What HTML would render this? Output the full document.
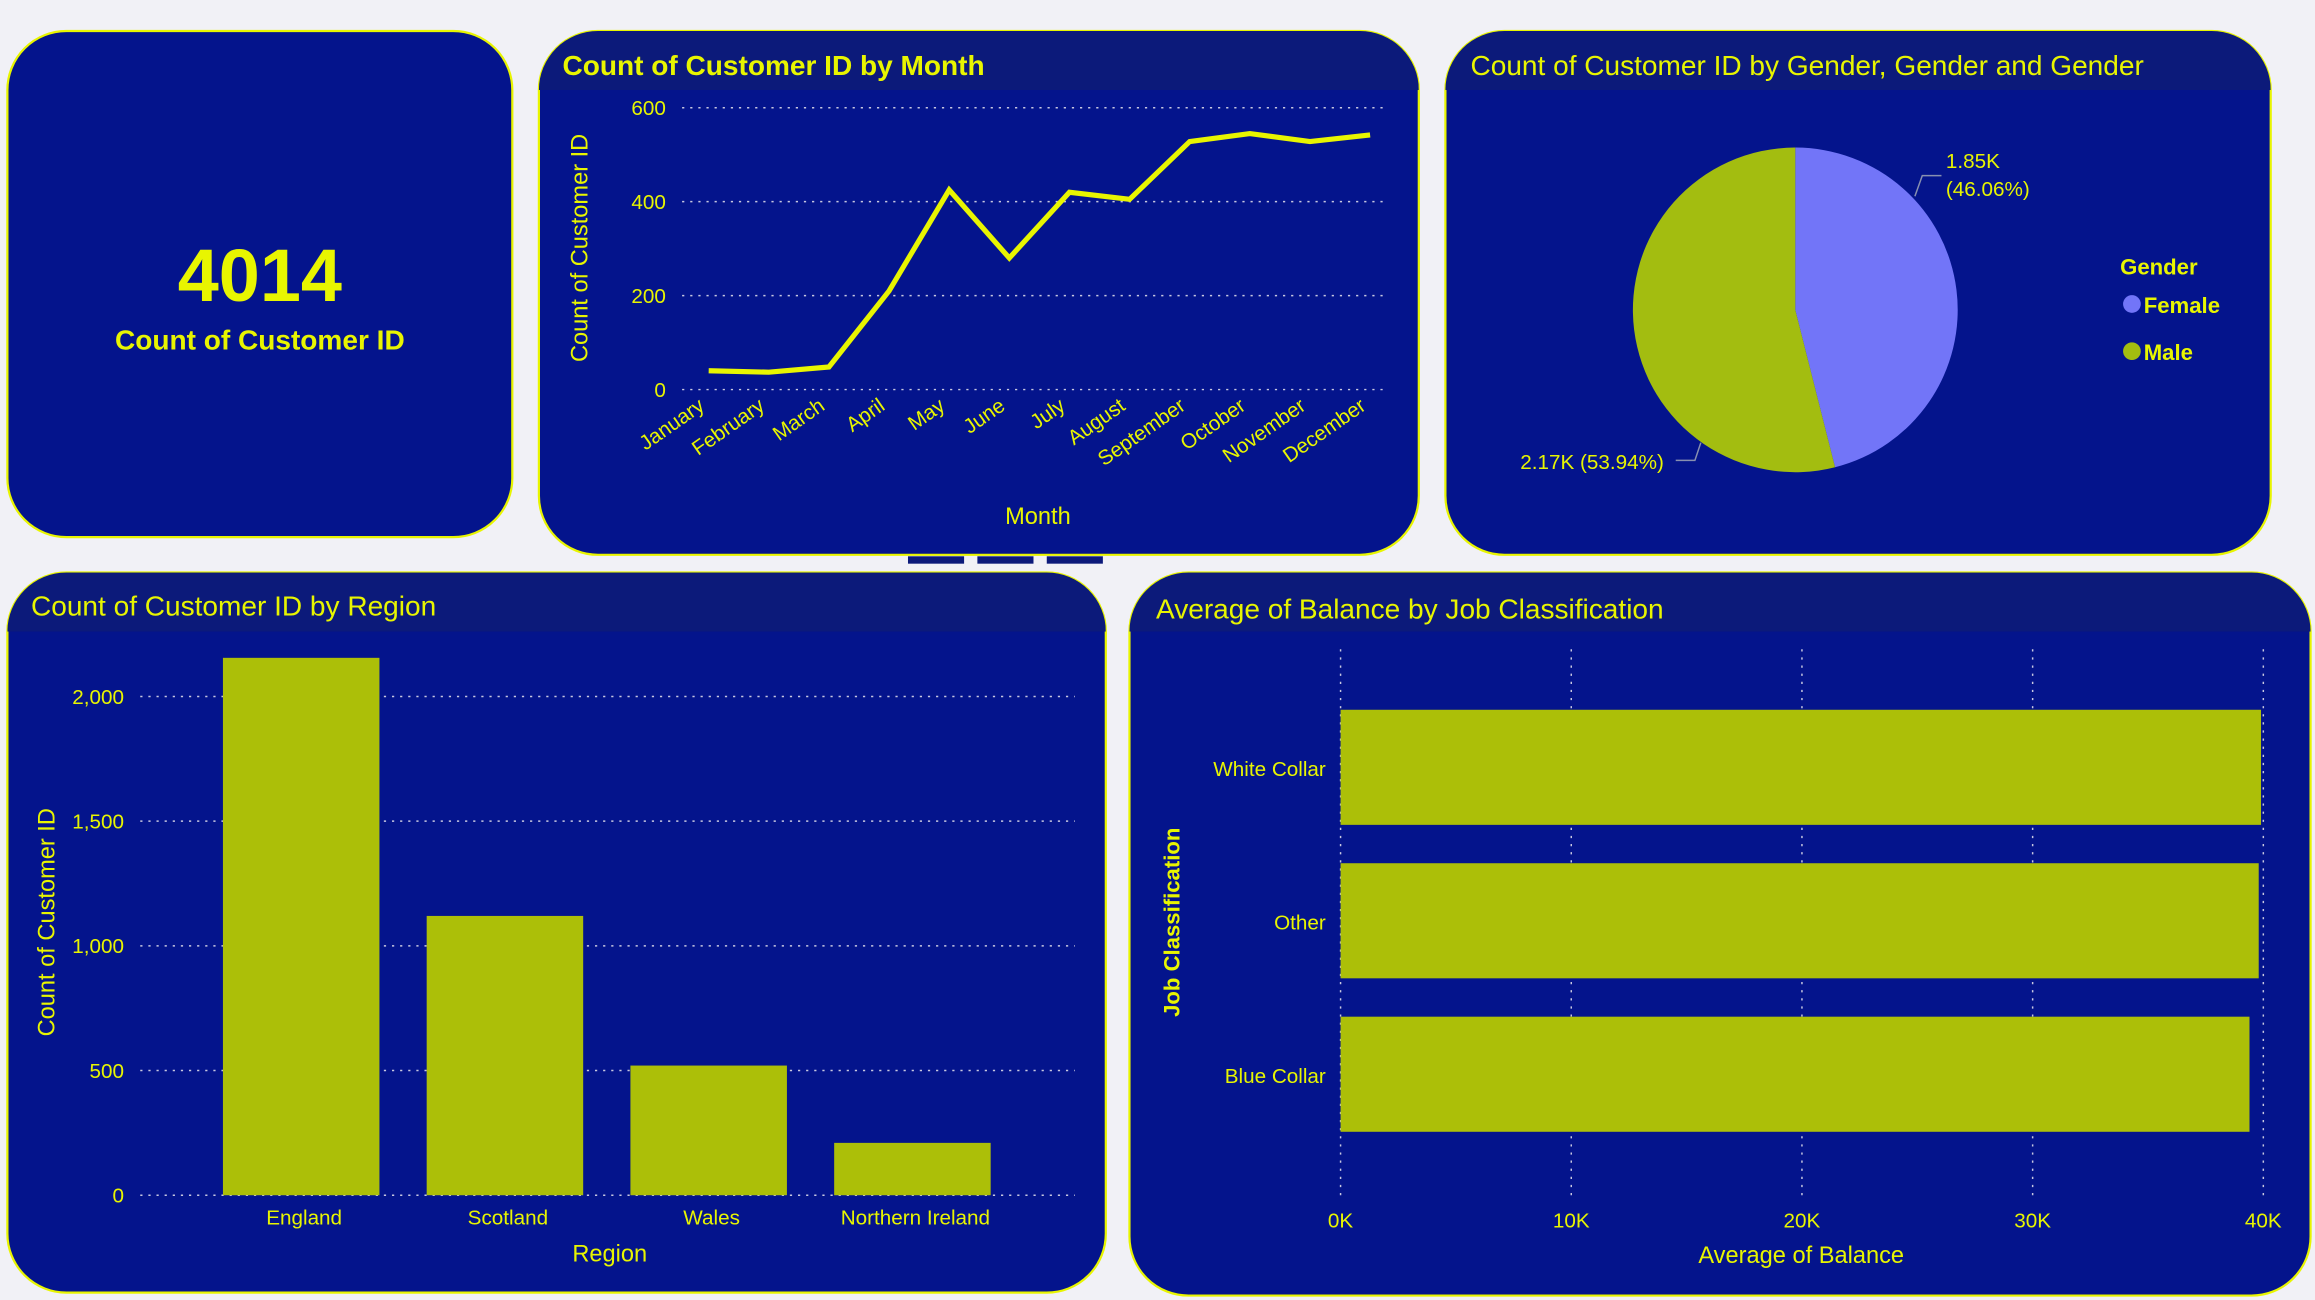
<!DOCTYPE html>
<html><head><meta charset="utf-8">
<style>
html,body{margin:0;padding:0;background:#f1f1f6;overflow:hidden}
svg{display:block;font-family:"Liberation Sans",sans-serif}
</style></head>
<body>
<svg id="dash" width="2315" height="1300" viewBox="0 0 1568 881" preserveAspectRatio="none" xmlns="http://www.w3.org/2000/svg">
<defs>
<clipPath id="c2"><rect x="365" y="21" width="596" height="355" rx="40"/></clipPath>
<clipPath id="c3"><rect x="979" y="21" width="559" height="355" rx="40"/></clipPath>
<clipPath id="c4"><rect x="5" y="388" width="744" height="488" rx="40"/></clipPath>
<clipPath id="c5"><rect x="765" y="388" width="800" height="490" rx="40"/></clipPath>
</defs>
<rect width="1568" height="881" fill="#f1f1f6"/>
<g>
<rect x="5" y="21" width="342" height="343" rx="40" fill="#04148c" stroke="#e8f500" stroke-width="1.5"/>
<text x="176" y="204" text-anchor="middle" fill="#e8f500" font-size="50" font-weight="bold">4014</text>
<text x="176" y="237" text-anchor="middle" fill="#e8f500" font-size="19" font-weight="bold">Count of Customer ID</text>
</g>
<g>
<rect x="365" y="21" width="596" height="355" rx="40" fill="#04148c" stroke="#e8f500" stroke-width="1.5"/>
<rect x="365" y="21" width="596" height="40" fill="#0c1a7a" clip-path="url(#c2)"/>
<text x="381" y="51" fill="#e8f500" font-size="19" font-weight="bold">Count of Customer ID by Month</text>
<g id="lineG"></g>
<text transform="translate(398,168) rotate(-90)" text-anchor="middle" fill="#e8f500" font-size="16">Count of Customer ID</text>
<text x="703" y="355" text-anchor="middle" fill="#e8f500" font-size="16">Month</text>
</g>
<rect x="615" y="377" width="38" height="5" fill="#0c1a7a"/><rect x="662" y="377" width="38" height="5" fill="#0c1a7a"/><rect x="709" y="377" width="38" height="5" fill="#0c1a7a"/>
<g>
<rect x="979" y="21" width="559" height="355" rx="40" fill="#04148c" stroke="#e8f500" stroke-width="1.5"/>
<rect x="979" y="21" width="559" height="40" fill="#0c1a7a" clip-path="url(#c3)"/>
<text x="996" y="51" fill="#e8f500" font-size="19">Count of Customer ID by Gender, Gender and Gender</text>
<g id="pieG"></g>
<text x="1436" y="186" fill="#e8f500" font-size="15" font-weight="bold">Gender</text>
<g><circle cx="1444" cy="206" r="6" fill="#7275f8"/><text x="1452" y="212" fill="#e8f500" font-size="15" font-weight="bold">Female</text></g>
<g><circle cx="1444" cy="238" r="6" fill="#a3bd10"/><text x="1452" y="244" fill="#e8f500" font-size="15" font-weight="bold">Male</text></g>
</g>
<g>
<rect x="5" y="388" width="744" height="488" rx="40" fill="#04148c" stroke="#e8f500" stroke-width="1.5"/>
<rect x="5" y="388" width="744" height="40" fill="#0c1a7a" clip-path="url(#c4)"/>
<text x="21" y="417" fill="#e8f500" font-size="19">Count of Customer ID by Region</text>
<g id="regG"></g>
<text transform="translate(37,625) rotate(-90)" text-anchor="middle" fill="#e8f500" font-size="16">Count of Customer ID</text>
<text x="413" y="855" text-anchor="middle" fill="#e8f500" font-size="16">Region</text>
</g>
<g>
<rect x="765" y="388" width="800" height="490" rx="40" fill="#04148c" stroke="#e8f500" stroke-width="1.5"/>
<rect x="765" y="388" width="800" height="40" fill="#0c1a7a" clip-path="url(#c5)"/>
<text x="783" y="419" fill="#e8f500" font-size="19">Average of Balance by Job Classification</text>
<g id="jobG"></g>
<text transform="translate(799,625) rotate(-90)" text-anchor="middle" fill="#e8f500" font-size="15" font-weight="bold">Job Classification</text>
<text x="1220" y="856" text-anchor="middle" fill="#e8f500" font-size="16">Average of Balance</text>
</g>
</svg>
<script>
const NS="http://www.w3.org/2000/svg";
const months=["January","February","March","April","May","June","July","August","September","October","November","December"];
const monthCounts=[40,37,48,210,425,280,420,405,528,545,528,542];
const monthTicks=[0,200,400,600];
const genders=["Female","Male"];
const genderCounts=[1849,2165];
const genderLabels=["1.85K","2.17K (53.94%)"];
const regions=["England","Scotland","Wales","Northern Ireland"];
const regionCounts=[2155,1120,520,210];
const regionTicks=[0,500,1000,1500,2000];
const regionTickLabels=["0","500","1,000","1,500","2,000"];
const jobs=["White Collar","Other","Blue Collar"];
const jobBalances=[39900,39800,39400];
const jobTicks=[0,10000,20000,30000,40000];
const jobTickLabels=["0K","10K","20K","30K","40K"];

function mk(tag,attrs,parent,txt){const e=document.createElementNS(NS,tag);for(const k in attrs)e.setAttribute(k,attrs[k]);if(txt!==undefined)e.textContent=txt;parent.appendChild(e);return e;}
const Y="#e8f500";

(function(){
 const g=document.getElementById('lineG');
 const y=v=>264-v/600*191;
 const x=i=>480+i*(928-480)/11;
 monthTicks.forEach(t=>{
  const l=mk('line',{x1:462,x2:940,y1:y(t),y2:y(t),stroke:"#c8c8e0","stroke-width":1,"stroke-dasharray":"1.5 4"},g);
  
  
  const tx=mk('text',{x:451,y:y(t)+5,"text-anchor":"end",fill:Y,"font-size":14},g,String(t));
  
  
 });
 months.forEach((m,i)=>{
  const tx=mk('text',{transform:`translate(${x(i)-2},${277}) rotate(-35)`,"text-anchor":"end",fill:Y,"font-size":14},g,m);
  
  
 });
 const p=mk('polyline',{points:monthCounts.map((v,i)=>x(i)+","+y(v)).join(" "),fill:"none",stroke:Y,"stroke-width":3.5,"stroke-linejoin":"miter"},g);
 
 
})();

(function(){
 const g=document.getElementById('pieG');
 const cx=1216,cy=210,r=110;
 const tot=genderCounts.reduce((a,b)=>a+b,0);
 const cols=["#7275f8","#a3bd10"];
 let a0=0;
 genderCounts.forEach((v,i)=>{
  const a1=a0+v/tot*2*Math.PI;
  const p=(a)=>[cx+r*Math.sin(a),cy-r*Math.cos(a)];
  const [x0,y0]=p(a0),[x1,y1]=p(a1);
  const s=mk('path',{d:`M${cx},${cy} L${x0},${y0} A${r},${r} 0 ${a1-a0>Math.PI?1:0} 1 ${x1},${y1} Z`,fill:cols[i]},g);
  
  
  a0=a1;
 });
 const pct=genderCounts.map(v=>(v/tot*100).toFixed(2)+"%");
 mk('polyline',{points:"1297,133 1302,119 1315,119",fill:"none",stroke:"#8890b0","stroke-width":1},g);
 const t1=mk('text',{x:1318,y:114,fill:Y,"font-size":14},g,genderLabels[0]);
 
 
 const t2=mk('text',{x:1318,y:133,fill:Y,"font-size":14},g,"("+pct[0]+")");
 
 
 mk('polyline',{points:"1152,300 1148,312 1135,312",fill:"none",stroke:"#8890b0","stroke-width":1},g);
 const t3=mk('text',{x:1127,y:318,"text-anchor":"end",fill:Y,"font-size":14},g,genderLabels[1]);
 
 
})();

(function(){
 const g=document.getElementById('regG');
 const y=v=>810-v/2000*338;
 regionTicks.forEach((t,i)=>{
  const l=mk('line',{x1:95,x2:728,y1:y(t),y2:y(t),stroke:"#c8c8e0","stroke-width":1,"stroke-dasharray":"1.5 4"},g);
  
  
  const tx=mk('text',{x:84,y:y(t)+5,"text-anchor":"end",fill:Y,"font-size":14},g,regionTickLabels[i]);
  
  
 });
 regions.forEach((r,i)=>{
  const cx=204+i*138;
  const b=mk('rect',{x:cx-53,y:y(regionCounts[i]),width:106,height:810-y(regionCounts[i]),fill:"#acbf08"},g);
  
  
  const tx=mk('text',{x:cx+2,y:830,"text-anchor":"middle",fill:Y,"font-size":14},g,r);
  
  
 });
})();

(function(){
 const g=document.getElementById('jobG');
 const x=v=>908+v/40000*625;
 jobTicks.forEach((t,i)=>{
  const l=mk('line',{x1:x(t),x2:x(t),y1:440,y2:812,stroke:"#c8c8e0","stroke-width":1,"stroke-dasharray":"1.5 4"},g);
  
  
  const tx=mk('text',{x:x(t),y:832,"text-anchor":"middle",fill:Y,"font-size":14},g,jobTickLabels[i]);
  
  
 });
 jobs.forEach((j,i)=>{
  const cy=520+i*104;
  const b=mk('rect',{x:x(0),y:cy-39,width:x(jobBalances[i])-x(0),height:78,fill:"#acbf08"},g);
  
  
  const tx=mk('text',{x:898,y:cy+6,"text-anchor":"end",fill:Y,"font-size":14},g,j);
  
  
 });
})();
</script>
</body></html>
